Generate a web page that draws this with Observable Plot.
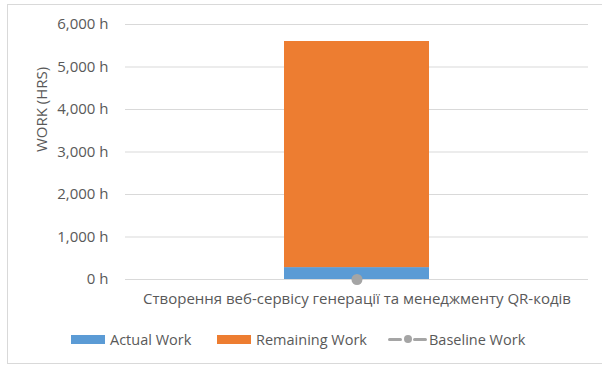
<!DOCTYPE html>
<html>
<head>
<meta charset="utf-8">
<script src="https://cdn.jsdelivr.net/npm/d3@7"></script>
<script src="https://cdn.jsdelivr.net/npm/@observablehq/plot@0.6"></script>
<style>
  html, body { margin: 0; padding: 0; background: #fff; }
  #wrap { position: relative; width: 602px; height: 367px; overflow: hidden; font-family: "Open Sans", sans-serif; }
  #frame { position: absolute; left: 7px; top: 4px; width: 600px; height: 360px; border: 1px solid #d9d9d9; box-sizing: border-box; }
  #chart { position: absolute; left: 0; top: 0; }
  #legend { position: absolute; left: 0; top: 328px; width: 602px; height: 22px; font-size: 14.5px; color: #595959; }
  .item { position: absolute; top: 0; display: flex; align-items: center; height: 22px; }
  .sw { width: 34px; height: 9px; margin-right: 5px; }
  .line { position: relative; width: 39px; height: 10px; margin-right: 2px; }
  .line .seg { position: absolute; top: 3.5px; height: 3.5px; width: 14px; background: #a5a5a5; border-radius: 2px; }
  .line .dotm { position: absolute; left: 15.5px; top: 1px; width: 8px; height: 8px; border-radius: 50%; background: #a5a5a5; }
</style>
</head>
<body>
<div id="wrap">
  <div id="frame"></div>
  <div id="chart"></div>
  <div id="legend"></div>
</div>
<script>
// Project work summary: one task, actual vs remaining hours, with baseline
const categories = ["Створення веб-сервісу генерації та менеджменту QR-кодів"];
const seriesNames = ["Actual Work", "Remaining Work"];
const actualWork = [280];
const remainingWork = [5320];
const baselineWork = [0];
const yTicks = [0, 1000, 2000, 3000, 4000, 5000, 6000];
const colors = { "Actual Work": "#5b9bd5", "Remaining Work": "#ed7d31", "Baseline Work": "#a5a5a5" };

const bars = categories.flatMap((c, i) => [
  { task: c, series: seriesNames[0], hours: actualWork[i] },
  { task: c, series: seriesNames[1], hours: remainingWork[i] }
]);
const baseline = categories.map((c, i) => ({ task: c, hours: baselineWork[i] }));

const fmt = d => d3.format(",")(d) + " h";

const chart = Plot.plot({
  width: 602,
  height: 322,
  marginTop: 24,
  marginBottom: 43,
  marginLeft: 125,
  marginRight: 14,
  style: { fontFamily: "Open Sans, sans-serif", fontSize: "15px", color: "#595959", background: "transparent" },
  x: { domain: categories, padding: 0.523, label: null },
  y: { domain: [0, 6000], ticks: yTicks, label: null },
  color: { domain: Object.keys(colors), range: Object.values(colors) },
  marks: [
    Plot.gridY(yTicks, { stroke: "#d9d9d9", strokeOpacity: 1, strokeWidth: 1.2 }),
    Plot.axisY(yTicks, { tickSize: 0, tickPadding: 17, tickFormat: fmt, label: null, fill: "#595959", fontSize: 15 }),
    Plot.axisX({ tickSize: 0, tickPadding: 14, label: null, fill: "#595959", fontSize: 15 }),
    Plot.barY(bars, Plot.stackY({ x: "task", y: "hours", fill: "series", order: seriesNames })),
    Plot.dot(baseline, { x: "task", y: "hours", r: 5.5, fill: colors["Baseline Work"] }),
    Plot.text(["WORK (HRS)"], { frameAnchor: "left", dx: -83, rotate: -90, fill: "#595959", fontSize: 15 })
  ]
});
document.getElementById("chart").appendChild(chart);

// Legend row below the plot
const legendItems = [
  { name: "Actual Work", kind: "swatch", left: 71 },
  { name: "Remaining Work", kind: "swatch", left: 217 },
  { name: "Baseline Work", kind: "line", left: 388 }
];
const legend = document.getElementById("legend");
for (const it of legendItems) {
  const el = document.createElement("div");
  el.className = "item";
  el.style.left = it.left + "px";
  const mk = document.createElement("span");
  if (it.kind === "swatch") {
    mk.className = "sw";
    mk.style.background = colors[it.name];
  } else {
    mk.className = "line";
    mk.innerHTML = '<span class="seg" style="left:0"></span><span class="dotm"></span><span class="seg" style="left:25px"></span>';
  }
  const tx = document.createElement("span");
  tx.textContent = it.name;
  el.appendChild(mk);
  el.appendChild(tx);
  legend.appendChild(el);
}
</script>
</body>
</html>
